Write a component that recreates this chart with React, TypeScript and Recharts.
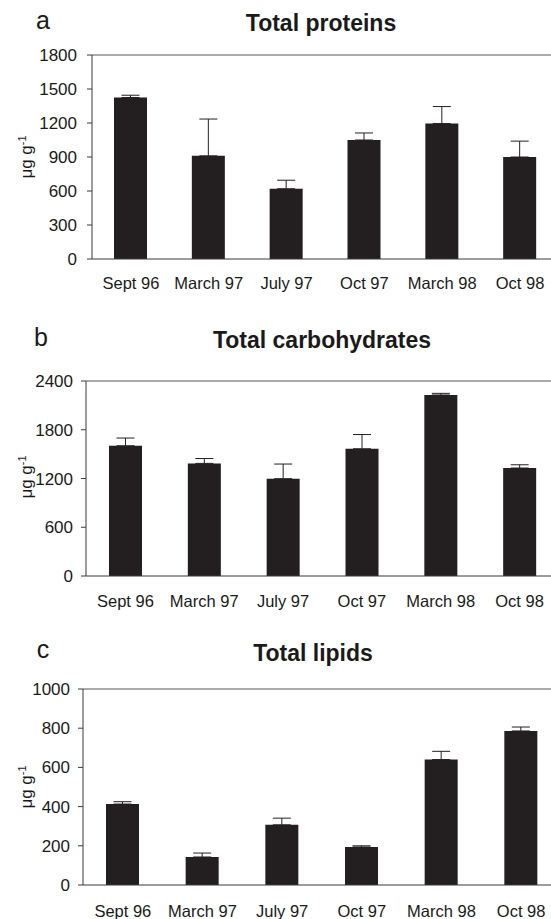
import React from 'react';
import { BarChart, Bar, XAxis, YAxis, ErrorBar, ReferenceLine } from 'recharts';

const categories = ['Sept 96', 'March 97', 'July 97', 'Oct 97', 'March 98', 'Oct 98'];

const proteins = [1425, 910, 620, 1050, 1195, 900];
const proteinsErr = [20, 325, 75, 62, 150, 140];

const carbohydrates = [1603, 1386, 1198, 1566, 2228, 1329];
const carbohydratesErr = [95, 60, 180, 175, 20, 40];

const lipids = [413, 143, 307, 194, 640, 786];
const lipidsErr = [12, 20, 34, 6, 42, 20];

const proteinTicks = [0, 300, 600, 900, 1200, 1500, 1800];
const carbTicks = [0, 600, 1200, 1800, 2400];
const lipidTicks = [0, 200, 400, 600, 800, 1000];
const boundaryTicks = [0, 1, 2, 3, 4, 5];

const FONT = '"Liberation Sans", Arial, Helvetica, sans-serif';
const INK = '#1a1a1a';
const AXIS = '#3a3a3a';

const build = (values: number[], errs: number[]) =>
  categories.map((name, i) => ({ name, value: values[i], err: [0, errs[i]] }));

type PanelProps = {
  top: number;
  height: number;
  width: number;
  marginTop: number;
  marginBottom: number;
  yWidth: number;
  yTickMargin: number;
  xTickMargin: number;
  values: number[];
  errs: number[];
  ticks: number[];
  title: string;
  letter: string;
  titleX: number;
  titleY: number;
  letterX: number;
  letterY: number;
  labelY: number;
};

function Panel(p: PanelProps) {
  const data = build(p.values, p.errs);
  const max = p.ticks[p.ticks.length - 1];
  return (
    <>
      <div style={{ position: 'absolute', left: 0, top: p.top, width: p.width, height: p.height }}>
        <BarChart
          width={p.width}
          height={p.height}
          data={data}
          margin={{ top: p.marginTop, right: 0, bottom: p.marginBottom, left: 0 }}
          barSize={33}
        >
          <XAxis
            dataKey="name"
            height={1}
            interval={0}
            tickLine={false}
            axisLine={{ stroke: AXIS }}
            tick={{ fill: INK, fontSize: 16.5, fontFamily: FONT }}
            tickSize={6}
            tickMargin={p.xTickMargin}
          />
          <XAxis
            xAxisId="edge"
            type="number"
            domain={[0, 6]}
            ticks={boundaryTicks}
            height={1}
            axisLine={false}
            tick={false}
            tickLine={{ stroke: AXIS }}
            tickSize={5}
          />
          <XAxis
            xAxisId="edgeUp"
            type="number"
            domain={[0, 6]}
            ticks={boundaryTicks}
            height={1}
            mirror
            axisLine={false}
            tick={false}
            tickLine={{ stroke: AXIS }}
            tickSize={4}
          />
          <YAxis
            width={p.yWidth}
            domain={[0, max]}
            ticks={p.ticks}
            interval={0}
            axisLine={{ stroke: AXIS }}
            tickLine={{ stroke: AXIS }}
            tickSize={5}
            tickMargin={p.yTickMargin}
            tick={{ fill: INK, fontSize: 17, fontFamily: FONT }}
          />
          <YAxis
            yAxisId="mirror"
            mirror
            width={1}
            domain={[0, max]}
            ticks={p.ticks}
            interval={0}
            axisLine={false}
            tick={false}
            tickLine={{ stroke: AXIS }}
            tickSize={3}
          />
          <ReferenceLine y={max} stroke="#555" />
          <Bar dataKey="value" fill="#231f20" isAnimationActive={false}>
            <ErrorBar dataKey="err" width={9} stroke="#222" strokeWidth={1} direction="y" />
          </Bar>
        </BarChart>
      </div>
      <div
        style={{
          position: 'absolute', left: p.letterX, top: p.letterY, transform: 'translate(-50%, -50%)',
          fontFamily: FONT, fontSize: 25, lineHeight: 1, color: INK,
        }}
      >
        {p.letter}
      </div>
      <div
        style={{
          position: 'absolute', left: p.titleX, top: p.titleY, transform: 'translate(-50%, -50%)',
          fontFamily: FONT, fontSize: 23, fontWeight: 'bold', lineHeight: 1, color: INK, whiteSpace: 'nowrap',
        }}
      >
        {p.title}
      </div>
      <div
        style={{
          position: 'absolute', left: 26, top: p.labelY, transform: 'translate(-50%, -50%) rotate(-90deg)',
          fontFamily: FONT, fontSize: 17, lineHeight: 1, color: INK, whiteSpace: 'nowrap',
        }}
      >
        μg g<sup style={{ fontSize: 11 }}>-1</sup>
      </div>
    </>
  );
}

export default function App() {
  return (
    <div style={{ position: 'absolute', left: 0, top: 0, width: 551, height: 919, background: '#fff', overflow: 'hidden' }}>
      <Panel
        top={0} height={300} width={559} marginTop={55} marginBottom={39} yWidth={92} yTickMargin={10} xTickMargin={12}
        values={proteins} errs={proteinsErr} ticks={proteinTicks}
        title="Total proteins" letter="a" titleX={321} titleY={23} letterX={43} letterY={20} labelY={157}
      />
      <Panel
        top={300} height={320} width={559} marginTop={81} marginBottom={42} yWidth={86} yTickMargin={8} xTickMargin={13}
        values={carbohydrates} errs={carbohydratesErr} ticks={carbTicks}
        title="Total carbohydrates" letter="b" titleX={322} titleY={340} letterX={41} letterY={337} labelY={477}
      />
      <Panel
        top={620} height={299} width={561} marginTop={69} marginBottom={32} yWidth={83} yTickMargin={8} xTickMargin={14}
        values={lipids} errs={lipidsErr} ticks={lipidTicks}
        title="Total lipids" letter="c" titleX={313} titleY={653} letterX={43} letterY={649} labelY={787}
      />
    </div>
  );
}
